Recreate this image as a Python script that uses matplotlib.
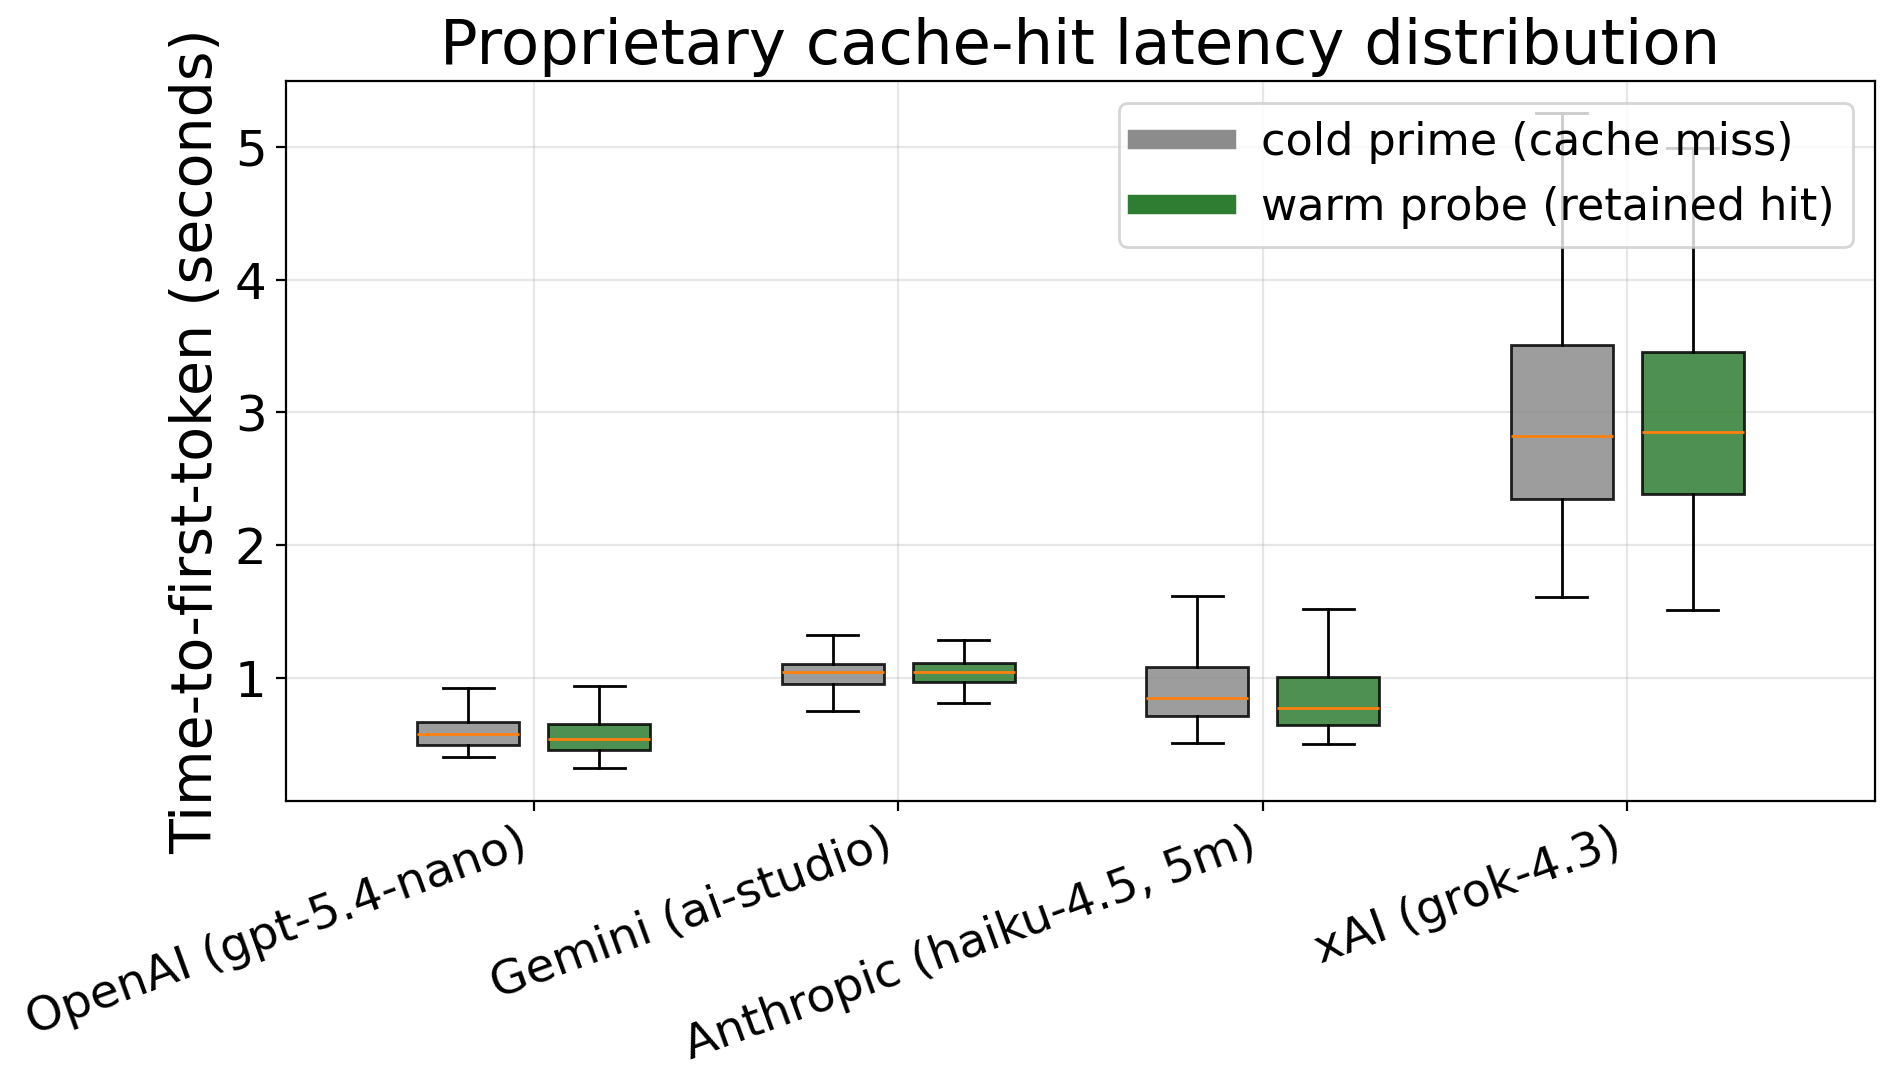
import matplotlib
matplotlib.use("Agg")
import matplotlib.pyplot as plt
from matplotlib.lines import Line2D

providers = ["OpenAI (gpt-5.4-nano)", "Gemini (ai-studio)",
             "Anthropic (haiku-4.5, 5m)", "xAI (grok-4.3)"]

# five-number summaries: low whisker, Q1, median, Q3, high whisker
cold_low  = [0.41, 0.75, 0.51, 1.615]
cold_q1   = [0.50, 0.955, 0.713, 2.345]
cold_med  = [0.578, 1.045, 0.855, 2.82]
cold_q3   = [0.668, 1.109, 1.082, 3.506]
cold_high = [0.925, 1.326, 1.62, 5.25]

warm_low  = [0.324, 0.81, 0.503, 1.517]
warm_q1   = [0.458, 0.973, 0.646, 2.39]
warm_med  = [0.541, 1.045, 0.773, 2.854]
warm_q3   = [0.653, 1.118, 1.007, 3.453]
warm_high = [0.938, 1.29, 1.522, 4.99]

series_labels = ["cold prime (cache miss)", "warm probe (retained hit)"]
series_colors = ["#8c8c8c", "#2e7d32"]


def stats(low, q1, med, q3, high):
    return [dict(whislo=a, q1=b, med=c, q3=d, whishi=e, fliers=[])
            for a, b, c, d, e in zip(low, q1, med, q3, high)]


fig = plt.figure(figsize=(9.47, 5.455), dpi=200)
ax = fig.add_axes([0.151, 0.266, 0.839, 0.660])

n = len(providers)
offset = 0.18
width = 0.28
groups = [
    stats(cold_low, cold_q1, cold_med, cold_q3, cold_high),
    stats(warm_low, warm_q1, warm_med, warm_q3, warm_high),
]
for k, (st, col) in enumerate(zip(groups, series_colors)):
    pos = [i + (offset if k else -offset) for i in range(n)]
    bp = ax.bxp(st, positions=pos, widths=width, patch_artist=True,
                showfliers=False, manage_ticks=False)
    for b in bp["boxes"]:
        b.set_facecolor(col)
        b.set_edgecolor("black")
        b.set_alpha(0.85)
        b.set_linewidth(1.0)

ax.set_xlim(-0.68, 3.68)
ax.set_xticks(range(n))
ax.set_xticklabels(providers, rotation=20, ha="right", fontsize=17)
ax.tick_params(axis="y", labelsize=18)
ax.set_yticks([1, 2, 3, 4, 5])
ax.set_ylabel("Time-to-first-token (seconds)", fontsize=20.5)
ax.set_title("Proprietary cache-hit latency distribution", fontsize=22.5)
ax.grid(True, alpha=0.3)

handles = [Line2D([0], [0], color=c, lw=7) for c in series_colors]
ax.legend(handles, series_labels, loc="upper right", fontsize=16)

fig.savefig("out.png", dpi=200)
